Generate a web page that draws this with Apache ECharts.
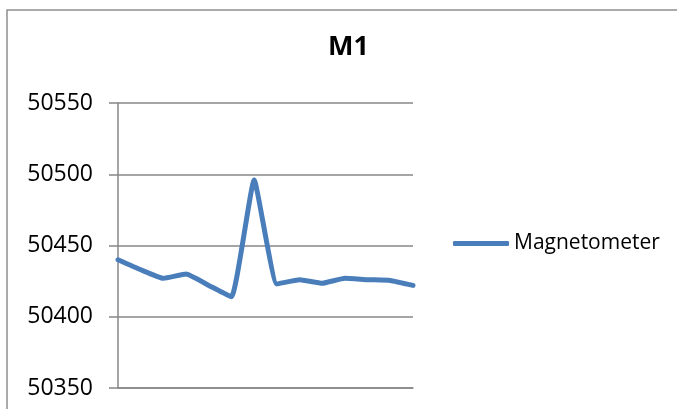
<!DOCTYPE html>
<html>
<head>
<meta charset="utf-8">
<script src="https://cdn.jsdelivr.net/npm/echarts@6/dist/echarts.min.js"></script>
<style>
  html, body { margin: 0; padding: 0; background: #ffffff; }
  #chart { width: 677px; height: 409px; }
</style>
</head>
<body>
<div id="chart"></div>
<script>
// Magnetometer readings for station M1
const samples = ['1', '2', '3', '4', '5', '6', '7', '8', '9', '10', '11', '12', '13', '14'];
const magnetometer = [50440, 50433, 50427, 50430, 50422, 50414, 50496, 50423, 50426, 50423.5, 50427, 50426, 50425.5, 50422];
const yTicks = [50350, 50400, 50450, 50500, 50550];

const FONT = '"Open Sans", "Liberation Sans", sans-serif';
const GRID_GRAY = '#878787';
const LINE_BLUE = '#4a7ebb';

const chart = echarts.init(document.getElementById('chart'), null, { renderer: 'canvas' });

chart.setOption({
  animation: false,
  backgroundColor: '#ffffff',
  title: {
    text: 'M1',
    left: 328,
    top: 34,
    padding: 0,
    textStyle: { fontFamily: FONT, fontWeight: 'bold', fontSize: 27, color: '#000000' }
  },
  legend: {
    left: 453,
    top: 233,
    padding: 0,
    icon: 'roundRect',
    itemWidth: 56,
    itemHeight: 5,
    data: ['Magnetometer'],
    textStyle: { fontFamily: FONT, fontSize: 21, color: '#000000' }
  },
  graphic: [{
    type: 'rect',
    silent: true,
    shape: { x: 7, y: 10, width: 720, height: 440 },
    style: { fill: 'none', stroke: '#8f8f8f', lineWidth: 1.5 }
  }],
  grid: { left: 118, top: 103, right: 264, bottom: 21, containLabel: false },
  xAxis: {
    type: 'category',
    data: samples,
    boundaryGap: false,
    axisLine: { show: true, lineStyle: { color: GRID_GRAY, width: 1.5 } },
    axisTick: { show: false },
    axisLabel: { show: false },
    splitLine: { show: false }
  },
  yAxis: {
    type: 'value',
    min: yTicks[0],
    max: yTicks[yTicks.length - 1],
    interval: 50,
    axisLine: { show: true, lineStyle: { color: GRID_GRAY, width: 1.5 } },
    axisTick: { show: true, length: 9, lineStyle: { color: GRID_GRAY, width: 1.5 } },
    axisLabel: {
      margin: 25,
      fontFamily: FONT,
      fontSize: 23,
      color: '#000000',
      formatter: v => String(v)
    },
    splitLine: { show: true, lineStyle: { color: GRID_GRAY, width: 1.5 } }
  },
  series: [{
    name: 'Magnetometer',
    type: 'line',
    data: magnetometer,
    smooth: 0.12,
    symbol: 'none',
    lineStyle: { color: LINE_BLUE, width: 5, cap: 'round', join: 'round' },
    itemStyle: { color: LINE_BLUE }
  }]
});
</script>
</body>
</html>
